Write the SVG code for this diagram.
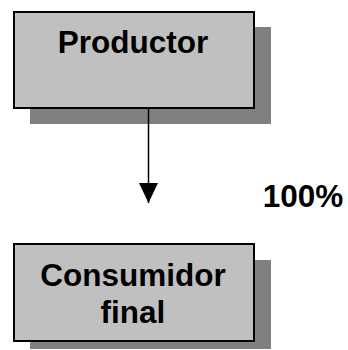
<svg xmlns="http://www.w3.org/2000/svg" width="348" height="350" viewBox="0 0 348 350">
<style>
.shadow{fill:#808080}
.box{fill:#c0c0c0;stroke:#000;stroke-width:2}
.t{font-family:"Liberation Sans",Arial,sans-serif;font-weight:bold;font-size:31.5px;fill:#000;text-anchor:middle}
</style>
<defs>
<marker id="ah" markerWidth="20" markerHeight="19" refX="20" refY="9.5" orient="auto" markerUnits="userSpaceOnUse" viewBox="0 0 20 19">
<path d="M0,0 L20,9.5 L0,19 Z" fill="#000"/>
</marker>
</defs>
<g id="productor">
<rect class="shadow" x="30" y="27" width="241" height="97"/>
<rect class="box" x="14" y="12" width="240" height="96"/>
<text class="t" x="133" y="53">Productor</text>
</g>
<g id="consumidor">
<rect class="shadow" x="30" y="260" width="241" height="89"/>
<rect class="box" x="14" y="244" width="240" height="97"/>
<text class="t" x="133" y="286">Consumidor</text>
<text class="t" x="133" y="323">final</text>
</g>
<g id="connectors">
<line x1="148.5" y1="108" x2="148.5" y2="203" stroke="#000" stroke-width="1.5" marker-end="url(#ah)"/>
<text class="t" x="303" y="207">100%</text>
</g>
</svg>
